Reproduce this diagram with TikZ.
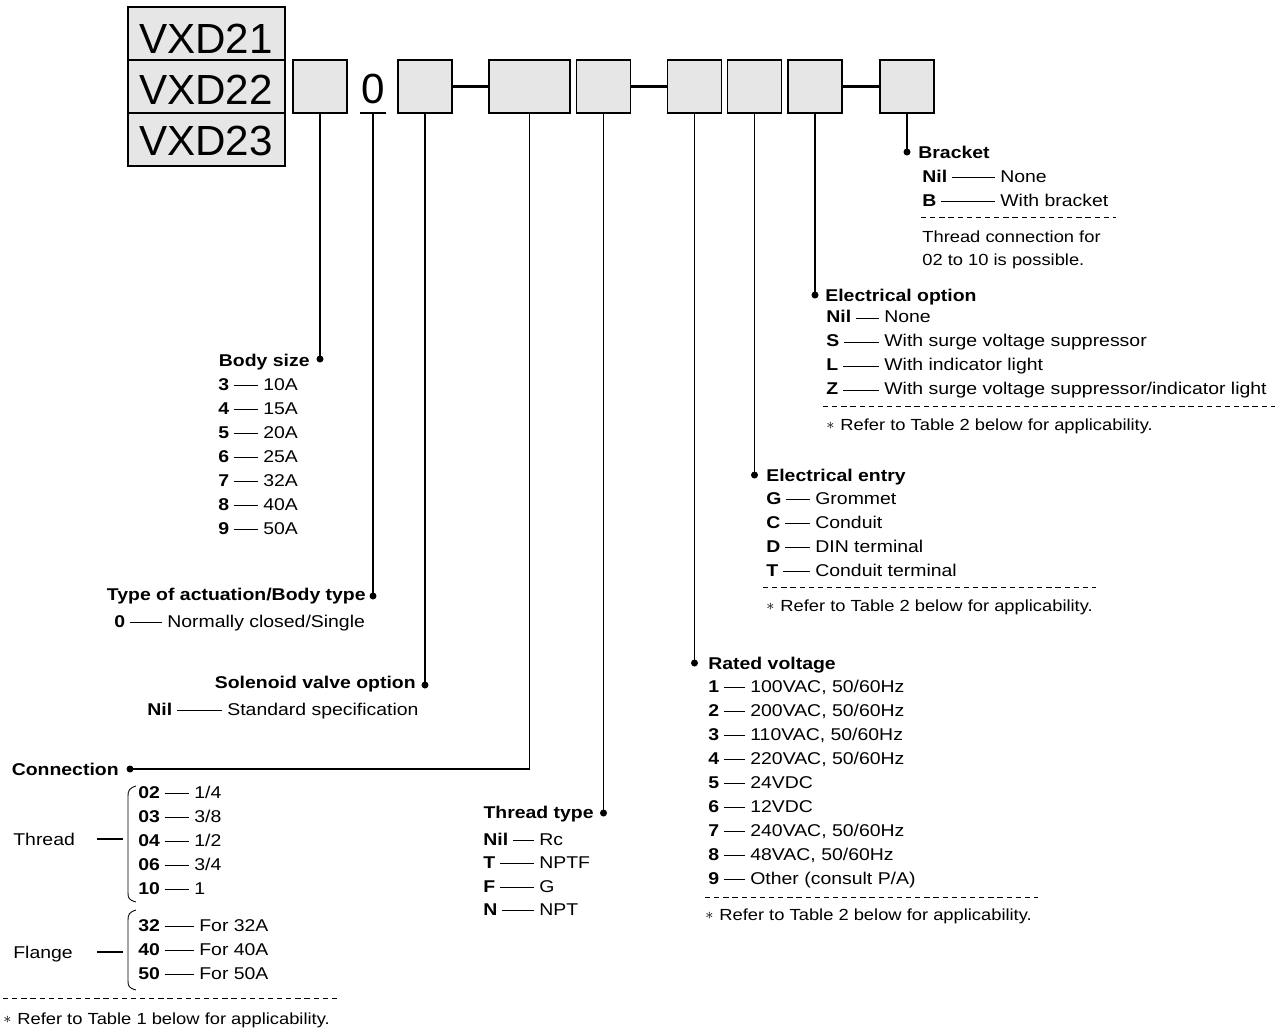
\documentclass[tikz,border=0pt]{standalone}
\usepackage{fontspec}
\setmainfont{Liberation Sans}[FakeStretch=1.14]
\newfontfamily\bigfont{Liberation Sans}
\definecolor{boxgray}{HTML}{E6E6E6}
\newlength\pxu \setlength\pxu{0.02cm}
\newcommand\kv[3]{\makebox[#1\pxu][l]{\textbf{#2}\hspace{5\pxu}\leaders\hrule height 2.75pt depth -2.1pt\hfill\hspace{5\pxu}}#3}
\newcommand\fnm{\makebox[14\pxu][l]{\raisebox{0.3pt}{\small$\ast$}}}
\tikzset{
 txt/.style={anchor=base west, inner sep=0pt, font=\fontsize{9.7}{12}\selectfont},
 note/.style={anchor=base west, inner sep=0pt, font=\fontsize{9.15}{12}\selectfont},
 ttl/.style={txt, font=\fontsize{9.7}{12}\selectfont\bfseries},
 ttlr/.style={ttl, anchor=base east},
 big/.style={anchor=base, inner sep=0pt, font=\bigfont\fontsize{24}{24}\selectfont},
 box/.style={draw, line width=1.1pt, fill=boxgray, inner sep=0pt, minimum height=1.06cm},
 sbox/.style={box, minimum width=1.08cm},
 vbox/.style={box, minimum width=3.14cm},
 vline/.style={line width=1.1pt},
 hlink/.style={line width=1.9pt},
 thin/.style={line width=0.6pt},
 dsep/.style={line width=0.55pt, dash pattern=on 3pt off 2.2pt},
 jdot/.style={circle, fill, inner sep=0pt, minimum size=0.14cm},
}
\begin{document}
\begin{tikzpicture}[x=0.02cm,y=-0.02cm]
\useasboundingbox (0,0) rectangle (1287,1032);
% model boxes
\node[vbox] (v1) at (206.5,33.5) {};
\node[vbox] (v2) at (206.5,86.5) {};
\node[vbox] (v3) at (206.5,139.5) {};
\node[big] (t1) at (206,53) {VXD21};
\node[big] (t2) at (206,104) {VXD22};
\node[big] (t3) at (206,155) {VXD23};
\node[sbox] (b1) at (320,86.5) {};
\node[big] (zero) at (373,103) {0};
\coordinate (zu) at (373,113);
\draw[vline] (360,113) -- (386,113);
\node[sbox] (b2) at (425,86.5) {};
\node[box, minimum width=1.62cm] (b3) at (529.5,86.5) {};
\node[sbox] (b4) at (603.5,86.5) {};
\node[sbox] (b5) at (694.5,86.5) {};
\node[sbox] (b6) at (754.5,86.5) {};
\node[sbox] (b7) at (815,86.5) {};
\node[sbox] (b8) at (907,86.5) {};
\draw[hlink] (b2.east) -- (b3.west);
\draw[hlink] (b4.east) -- (b5.west);
\draw[hlink] (b7.east) -- (b8.west);
% dots
\node[jdot] (dBody) at (320,359) {};
\node[jdot] (dAct) at (373,596) {};
\node[jdot] (dSol) at (425,685) {};
\node[jdot] (dConn) at (130,769) {};
\node[jdot] (dTT) at (603.5,813) {};
\node[jdot] (dRV) at (694.5,663) {};
\node[jdot] (dEE) at (754.5,475) {};
\node[jdot] (dEO) at (815,295) {};
\node[jdot] (dBr) at (907,152) {};
\draw[vline] (b1.south) -- (dBody.center);
\draw[vline] (zu) -- (dAct.center);
\draw[vline] (b2.south) -- (dSol.center);
\draw[vline] (b3.south) |- (dConn.center);
\draw[vline] (b4.south) -- (dTT.center);
\draw[vline] (b5.south) -- (dRV.center);
\draw[vline] (b6.south) -- (dEE.center);
\draw[vline] (b7.south) -- (dEO.center);
\draw[vline] (b8.south) -- (dBr.center);
% Body size
\node[ttlr] (tBody) at (310,366) {Body size};
\foreach \k/\v [count=\i from 0] in {3/10A,4/15A,5/20A,6/25A,7/32A,8/40A,9/50A}
  \node[txt] (bs\i) at (218,{390+24*\i}) {\kv{45}{\k}{\v}};
% Type of actuation
\node[ttlr] (tAct) at (366,600) {Type of actuation/Body type};
\node[txt] (act0) at (114,627) {\kv{53}{0}{Normally closed/Single}};
% Solenoid valve option
\node[ttlr] (tSol) at (416,688) {Solenoid valve option};
\node[txt] (sol0) at (147,715) {\kv{80}{Nil}{Standard specification}};
% Connection
\node[ttlr] (tConn) at (119,775) {Connection};
\foreach \k/\v [count=\i from 0] in {02/{1/4},03/{3/8},04/{1/2},06/{3/4},10/{1}}
  \node[txt] (cn\i) at (138,{798+24*\i}) {\kv{56}{\k}{\v}};
\foreach \k/\v [count=\i from 0] in {32/{For 32A},40/{For 40A},50/{For 50A}}
  \node[txt] (fl\i) at (138,{931+24*\i}) {\kv{61}{\k}{\v}};
\node[txt] (lThr) at (13,845) {Thread};
\node[txt] (lFl) at (13,958) {Flange};
\draw[thin] (97,839) -- (123,839);
\draw[thin] (97,952) -- (123,952);
\draw[line width=0.5pt] (136,786) .. controls (129,788) and (128,791) .. (128,796) -- (128,893) .. controls (128,898) and (129,900) .. (136,902);
\draw[line width=0.5pt] (136,910) .. controls (129,912) and (128,915) .. (128,920) -- (128,981) .. controls (128,986) and (129,988) .. (136,990);
\draw[dsep] (3,998) -- (337,998);
\node[note] (fnConn) at (3,1024) {\fnm Refer to Table 1 below for applicability.};
% Thread type
\node[ttlr] (tTT) at (594,818) {Thread type};
\node[txt] (tt0) at (483,845) {\kv{56}{Nil}{Rc}};
\node[txt] (tt1) at (483,868) {\kv{56}{T}{NPTF}};
\node[txt] (tt2) at (483,892) {\kv{56}{F}{G}};
\node[txt] (tt3) at (483,915) {\kv{56}{N}{NPT}};
% Rated voltage
\node[ttl] (tRV) at (708,669) {Rated voltage};
\foreach \k/\v [count=\i from 0] in {1/{100VAC, 50/60Hz},2/{200VAC, 50/60Hz},3/{110VAC, 50/60Hz},4/{220VAC, 50/60Hz},5/{24VDC},6/{12VDC},7/{240VAC, 50/60Hz},8/{48VAC, 50/60Hz},9/{Other (consult P/A)}}
  \node[txt] (rv\i) at (708,{692+24*\i}) {\kv{42}{\k}{\v}};
\draw[dsep] (705,897) -- (1038,897);
\node[note] (fnRV) at (705,920) {\fnm Refer to Table 2 below for applicability.};
% Electrical entry
\node[ttl] (tEE) at (766,481) {Electrical entry};
\foreach \k/\v [count=\i from 0] in {G/Grommet,C/Conduit,D/{DIN terminal},T/{Conduit terminal}}
  \node[txt] (ee\i) at (766,{504+24*\i}) {\kv{49}{\k}{\v}};
\draw[dsep] (763,587) -- (1096,587);
\node[note] (fnEE) at (766,611) {\fnm Refer to Table 2 below for applicability.};
% Electrical option
\node[ttl] (tEO) at (825,301) {Electrical option};
\foreach \k/\v [count=\i from 0] in {Nil/None,S/{With surge voltage suppressor},L/{With indicator light},Z/{With surge voltage suppressor/indicator light}}
  \node[txt] (eo\i) at (826,{322.5+24*\i}) {\kv{58}{\k}{\v}};
\draw[dsep] (823,406) -- (1275,406);
\node[note] (fnEO) at (826,430) {\fnm Refer to Table 2 below for applicability.};
% Bracket
\node[ttl] (tBr) at (918,158) {Bracket};
\node[txt] (br0) at (922,182) {\kv{78}{Nil}{None}};
\node[txt] (br1) at (922,206) {\kv{78}{B}{With bracket}};
\draw[dsep] (921,217) -- (1116,217);
\node[note] (brn0) at (922,242) {Thread connection for};
\node[note] (brn1) at (922,265) {02 to 10 is possible.};
\end{tikzpicture}
\end{document}
